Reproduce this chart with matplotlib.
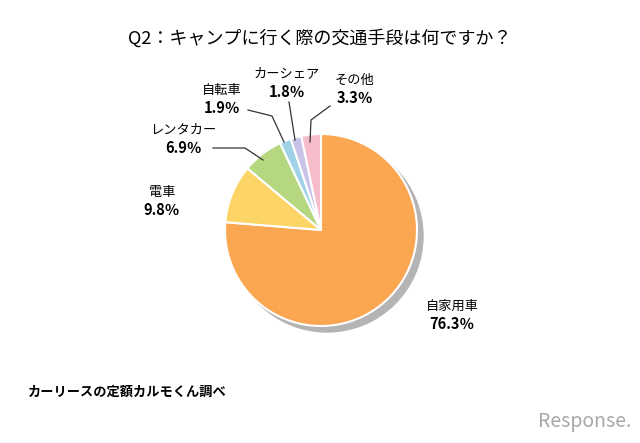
import matplotlib.pyplot as plt
import matplotlib as mpl
from matplotlib.patches import Circle

mpl.rcParams['font.family'] = 'Noto Sans CJK JP'

# data
categories = ['自家用車', '電車', 'レンタカー', '自転車', 'カーシェア', 'その他']
values = [76.3, 9.8, 6.9, 1.9, 1.8, 3.3]
colors = ['#fba752', '#fdd466', '#b5d77f', '#9fd2e6', '#c9c3e8', '#f6bccb']

fig = plt.figure(figsize=(6.4, 4.43), dpi=100)
ax = fig.add_axes([0, 0, 1, 1])
ax.set_xlim(0, 640)
ax.set_ylim(443, 0)
ax.set_aspect('equal')
ax.axis('off')

cx, cy, r = 321, 230, 96
ax.add_patch(Circle((cx + 6, cy + 6), r, color='#b4b4b4', zorder=1))
# pie draws counterclockwise in y-up; axis is inverted so counterclockwise=True looks clockwise
ax.pie(values, colors=colors, startangle=-90, counterclock=True, center=(cx, cy), radius=r,
       wedgeprops=dict(edgecolor='white', linewidth=1.5), frame=True)
ax.set_xlim(0, 640)
ax.set_ylim(443, 0)
ax.axis('off')

ax.text(320, 38, 'Q2：キャンプに行く際の交通手段は何ですか？', ha='center', va='center', fontsize=13)

labels = [
    (categories[0], '76.3％', 452, 306),
    (categories[1], '9.8％', 162, 192),
    (categories[2], '6.9％', 183, 130),
    (categories[3], '1.9％', 222, 90),
    (categories[4], '1.8％', 287, 74),
    (categories[5], '3.3％', 355, 80),
]
for name, pct, x, y in labels:
    ax.text(x, y, name, ha='center', va='center', fontsize=9.5)
    ax.text(x, y + 18, pct, ha='center', va='center', fontsize=10.5, fontweight='bold')

lines = [
    ([213, 245, 263], [148, 148, 160]),
    ([248, 272, 284], [110, 116, 142]),
    ([289, 295], [102, 140]),
    ([330, 311, 310], [106, 120, 142]),
]
for xs, ys in lines:
    ax.plot(xs, ys, color='#333333', lw=0.9)

ax.text(28, 392, 'カーリースの定額カルモくん調べ', ha='left', va='center', fontsize=9.5, fontweight='bold')
ax.text(585, 422, 'Response.', ha='center', va='center', fontsize=14, color='#a8a8a8', style='italic')

fig.savefig('out.png', dpi=100)
